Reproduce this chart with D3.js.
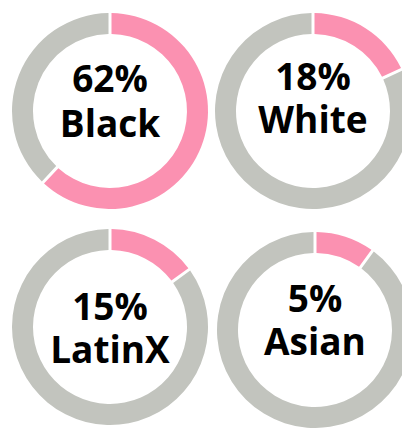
<!DOCTYPE html>
<html>
<head>
<meta charset="utf-8">
<script src="https://cdn.jsdelivr.net/npm/d3@7"></script>
<style>
  html, body { margin: 0; padding: 0; background: #fff; overflow: hidden; }
  svg { display: block; }
</style>
</head>
<body>
<svg id="chart" width="402" height="428"></svg>
<script>
// ---- data ----
const categories = ["Black", "White", "LatinX", "Asian"];
const labelPercents = [62, 18, 15, 5];      // printed in the centre
const arcPercents = [62, 18, 15, 10];       // share drawn by the pink arc (as pictured)

// ---- layout ----
const W = 402, H = 428;
const centersX = [110, 313, 110, 315];
const centersY = [111, 111, 327, 330];
const textOffsets = [[-19, 26], [-21, 22], [-7, 36], [-18, 25]];
const outerR = 98, innerR = 77;
const pink = "#FB91B1", gray = "#C2C4BE";

const svg = d3.select("#chart");
const pie = d3.pie().sort(null).value(d => d.v);
const arc = d3.arc().innerRadius(innerR).outerRadius(outerR)
  .padAngle(0.03).padRadius(100);

categories.forEach((cat, i) => {
  const g = svg.append("g").attr("transform", `translate(${centersX[i]},${centersY[i]})`);
  const parts = [{k: "share", v: arcPercents[i]}, {k: "rest", v: 100 - arcPercents[i]}];
  g.selectAll("path").data(pie(parts)).join("path")
    .attr("d", arc)
    .attr("fill", d => d.data.k === "share" ? pink : gray);
  const t = g.append("text")
    .attr("text-anchor", "middle")
    .attr("font-family", "'Open Sans', sans-serif")
    .attr("font-weight", 700)
    .attr("font-size", 37)
    .attr("fill", "#000");
  t.append("tspan").attr("x", 0).attr("y", textOffsets[i][0]).text(labelPercents[i] + "%");
  t.append("tspan").attr("x", 0).attr("y", textOffsets[i][1]).text(cat);
});
</script>
</body>
</html>
